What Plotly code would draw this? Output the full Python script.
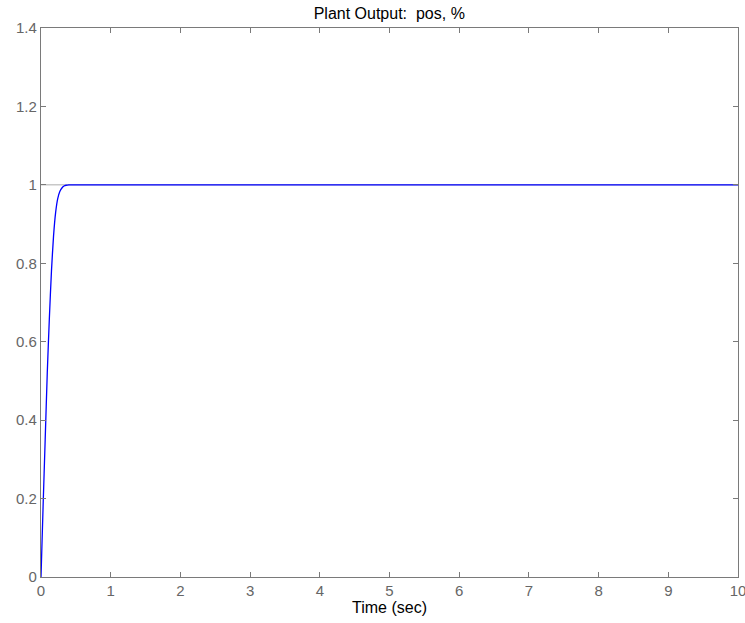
import plotly.graph_objects as go

# Step response of the plant output (position, normalised)
time_sec = [0, 0.03, 0.06, 0.09, 0.12, 0.15, 0.18, 0.21, 0.24, 0.27, 0.30,
            0.33, 0.36, 0.40, 0.50, 1.0, 10.0]
pos_out = [0, 0.18, 0.35, 0.52, 0.66, 0.78, 0.87, 0.93, 0.965, 0.983, 0.992,
           0.997, 0.999, 1.0, 1.0, 1.0, 1.0]

# Set-point reference
ref_time = [0, 10]
ref_value = [1, 1]

x_ticks = list(range(0, 11))
y_ticks = [0, 0.2, 0.4, 0.6, 0.8, 1, 1.2, 1.4]

axis_col = "#7a7a7a"
text_col = "#666666"
font_fam = "Liberation Sans, Arial, sans-serif"

fig = go.Figure()
fig.add_trace(go.Scatter(x=ref_time, y=ref_value, mode="lines",
                         line=dict(color="#c8c8c8", width=1.5), showlegend=False))
fig.add_trace(go.Scatter(x=time_sec, y=pos_out, mode="lines",
                         line=dict(color="#0000ff", width=1.3, shape="spline", smoothing=0.6),
                         showlegend=False))

common = dict(showline=True, linecolor=axis_col, linewidth=1.3, mirror="ticks",
              ticks="inside", ticklen=5, tickcolor=axis_col, tickwidth=1,
              showgrid=False, zeroline=False, ticklabeloverflow="allow",
              automargin=False,
              tickfont=dict(family=font_fam, size=15, color=text_col))

fig.update_xaxes(range=[0, 10], tickvals=x_ticks,
                 ticktext=[str(v) for v in x_ticks],
                 title=dict(text="Time (sec)", standoff=3,
                            font=dict(family=font_fam, size=16, color="#000000")),
                 **common)
fig.update_yaxes(range=[0, 1.4], tickvals=y_ticks,
                 ticktext=["0", "0.2", "0.4", "0.6", "0.8", "1", "1.2", "1.4"],
                 **common)

fig.update_layout(
    width=745, height=623,
    margin=dict(l=41, r=7, t=28, b=46),
    paper_bgcolor="white", plot_bgcolor="white",
    title=dict(text="Plant Output:\u00a0\u00a0pos, %", x=0.5225, xanchor="center",
               y=1 - 13 / 623, yanchor="middle",
               font=dict(family=font_fam, size=16, color="#000000")),
)

fig.write_html("out.html")
